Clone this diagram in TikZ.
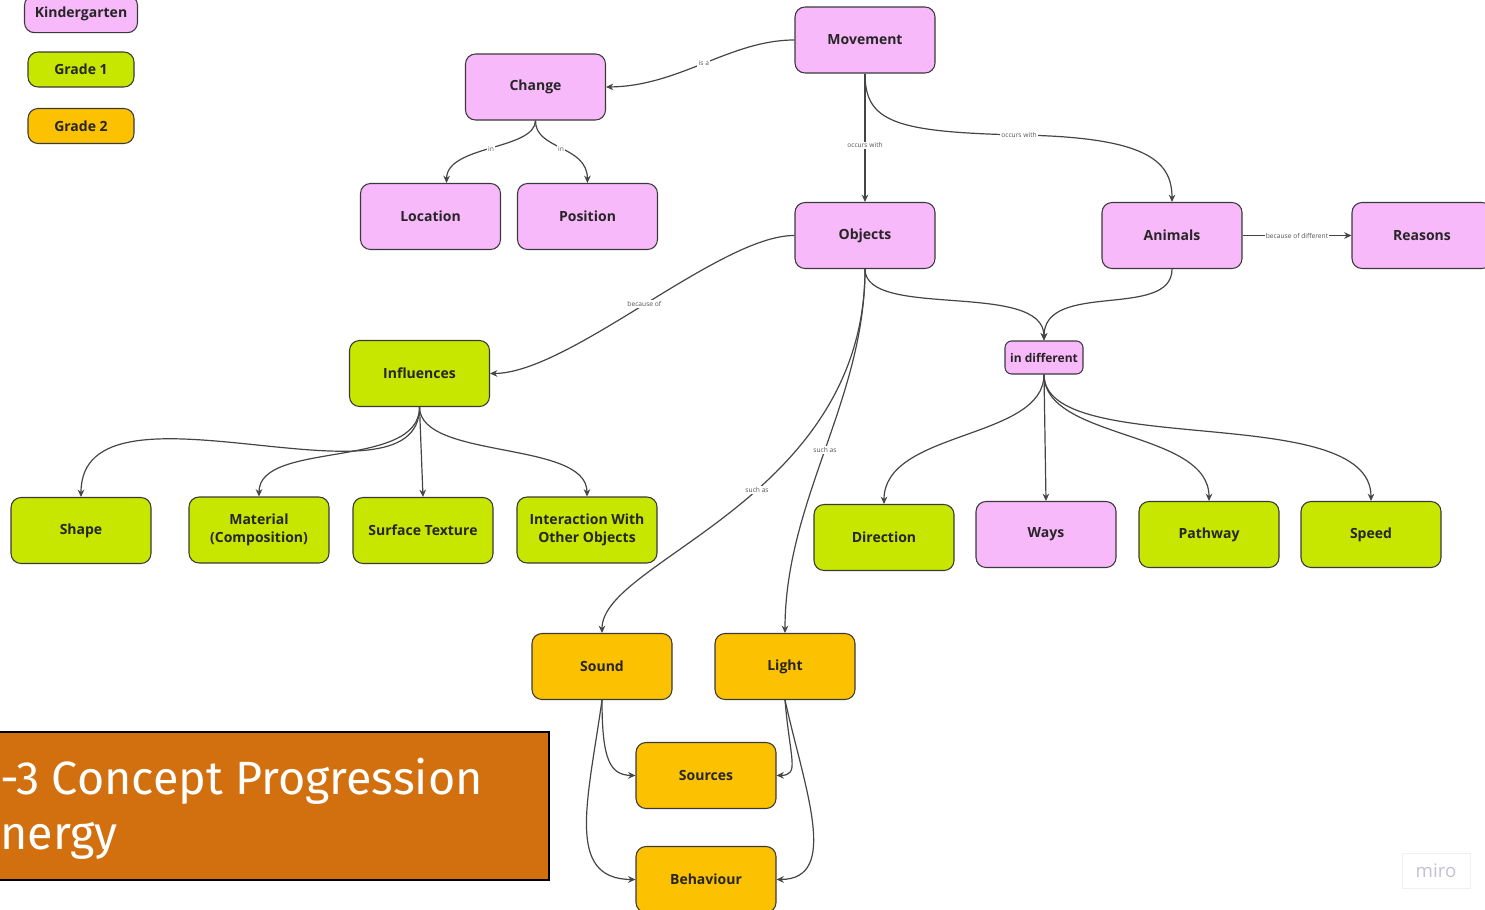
\documentclass[tikz,border=0pt]{standalone}
\usepackage{fontspec}
\setmainfont{Open Sans}
\newfontfamily\titlefont{Fira Sans}
\usetikzlibrary{arrows.meta}

\definecolor{kpink}{HTML}{F8B9FB}
\definecolor{glime}{HTML}{C7E600}
\definecolor{gorange}{HTML}{FCC100}
\definecolor{boxline}{HTML}{3A3A3A}
\definecolor{linkgray}{HTML}{454545}
\definecolor{labelgray}{HTML}{555555}
\definecolor{titlefill}{HTML}{D2700F}
\definecolor{miroline}{HTML}{F0F0F4}
\definecolor{mirotext}{HTML}{C2C2CE}

\begin{document}
\begin{tikzpicture}[x=0.75pt,y=-0.75pt,
  concept/.style={draw=boxline, line width=0.8pt, rounded corners=7.5pt,
    minimum width=105pt, minimum height=49.5pt, align=center, inner sep=2pt,
    font=\bfseries\fontsize{10.5}{14}\selectfont, text=black!85},
  kinder/.style={concept, fill=kpink},
  gradeone/.style={concept, fill=glime},
  gradetwo/.style={concept, fill=gorange},
  legendbox/.style={minimum width=79.5pt, minimum height=26.25pt},
  link/.style={draw=linkgray, line width=0.9pt, -{Stealth[length=5.5pt,width=5pt]}},
  lbl/.style={fill=white, inner sep=1pt, font=\fontsize{5}{6}\selectfont, text=labelgray}
]
\useasboundingbox (0,0) rectangle (1485,910);
\clip (0,0) rectangle (1485,910);

% legend
\node[kinder, minimum width=84.75pt, minimum height=28pt] (lk) at (81,14) {Kindergarten};
\node[gradeone, legendbox] (lg1) at (81,69.5) {Grade 1};
\node[gradetwo, legendbox] (lg2) at (81,126) {Grade 2};

% kindergarten concepts
\node[kinder] (move) at (865,40) {Movement};
\node[kinder] (change) at (535.5,87) {Change};
\node[kinder] (loc) at (430.5,216.5) {Location};
\node[kinder] (pos) at (587.5,216.5) {Position};
\node[kinder] (obj) at (865,235.5) {Objects};
\node[kinder] (anim) at (1172,235.5) {Animals};
\node[kinder] (reas) at (1422,235.5) {Reasons};
\node[kinder, minimum width=58.5pt, minimum height=24.75pt, rounded corners=5pt, inner sep=1pt,
  font=\bfseries\fontsize{9}{11}\selectfont] (indiff) at (1044,357.5) {in different};
\node[kinder] (ways) at (1046,534.5) {Ways};

% grade 1 concepts
\node[gradeone] (infl) at (419.5,373.5) {Influences};
\node[gradeone] (shape) at (81,530.5) {Shape};
\node[gradeone] (mat) at (259,530) {Material\\(Composition)};
\node[gradeone] (surf) at (423,530.5) {Surface Texture};
\node[gradeone] (inter) at (587,530) {Interaction With\\Other Objects};
\node[gradeone] (dir) at (884,537.5) {Direction};
\node[gradeone] (path) at (1209,534.5) {Pathway};
\node[gradeone] (speed) at (1371,534.5) {Speed};

% grade 2 concepts
\node[gradetwo] (sound) at (602,666.5) {Sound};
\node[gradetwo] (light) at (785,666.5) {Light};
\node[gradetwo] (src) at (706,775.5) {Sources};
\node[gradetwo] (behav) at (706,879.5) {Behaviour};

% connectors
\draw[link] (move.west) .. controls (730,40) and (680,86) .. node[lbl, pos=0.5] {is a} (change.east);
\draw[link] (change.south) .. controls (535,150) and (447,145) .. node[lbl, pos=0.5] {in} ([xshift=12pt]loc.north);
\draw[link] (change.south) .. controls (535,150) and (587,145) .. node[lbl, pos=0.5] {in} (pos.north);
\draw[link] (move.south) -- node[lbl, pos=0.56] {occurs with} (obj.north);
\coordinate (occ) at (1019,135);
\draw[link] (move.south) .. controls (865,122) and (895,132) .. (occ)
  .. controls (1145,137) and (1172,160) .. (anim.north);
\node[lbl] (occlbl) at (occ) {occurs with};
\draw[link] (anim.east) -- node[lbl, pos=0.5] {because of different} (reas.west);
\draw[link] (obj.west) .. controls (720,235) and (570,373) .. node[lbl, pos=0.5] {because of} (infl.east);
\draw[link] (obj.south) .. controls (865,320) and (1044,280) .. (indiff.north);
\draw[link] (anim.south) .. controls (1172,320) and (1044,280) .. (indiff.north);
\draw[link] (obj.south) .. controls (865,500) and (602,560) .. node[lbl, pos=0.44] {such as} (sound.north);
\draw[link] (obj.south) .. controls (865,400) and (785,500) .. node[lbl, pos=0.5] {such as} (light.north);

\draw[link] (infl.south) .. controls (420,520) and (81,365) .. (shape.north);
\draw[link] (infl.south) .. controls (420,470) and (259,440) .. (mat.north);
\draw[link] (infl.south) -- (surf.north);
\draw[link] (infl.south) .. controls (420,460) and (587,440) .. (inter.north);

\draw[link] (indiff.south) .. controls (1044,440) and (884,430) .. (dir.north);
\draw[link] (indiff.south) -- (ways.north);
\draw[link] (indiff.south) .. controls (1044,440) and (1209,430) .. (path.north);
\draw[link] (indiff.south) .. controls (1044,460) and (1371,400) .. (speed.north);

\draw[link] (sound.south) .. controls (602,760) and (610,775) .. (src.west);
\draw[link] (sound.south) .. controls (588,800) and (565,879) .. (behav.west);
\draw[link] (light.south) .. controls (790,760) and (800,775) .. (src.east);
\draw[link] (light.south) .. controls (805,790) and (840,879) .. (behav.east);

% title banner
\draw[fill=titlefill, line width=1.5pt] (-10,732) rectangle (549,880);
\node[anchor=base west, inner sep=0pt, text=white, font=\titlefont\fontsize{35}{40}\selectfont]
  (title1) at (0,794) {-3 Concept Progression};
\node[anchor=base west, inner sep=0pt, text=white, font=\titlefont\fontsize{35}{40}\selectfont]
  (title2) at (0,849) {nergy};

% watermark
\node[draw=miroline, line width=0.6pt, text=mirotext, minimum width=51pt, minimum height=26pt,
  font=\fontsize{14}{16}\selectfont] (miro) at (1436,871) {miro};
\end{tikzpicture}
\end{document}
